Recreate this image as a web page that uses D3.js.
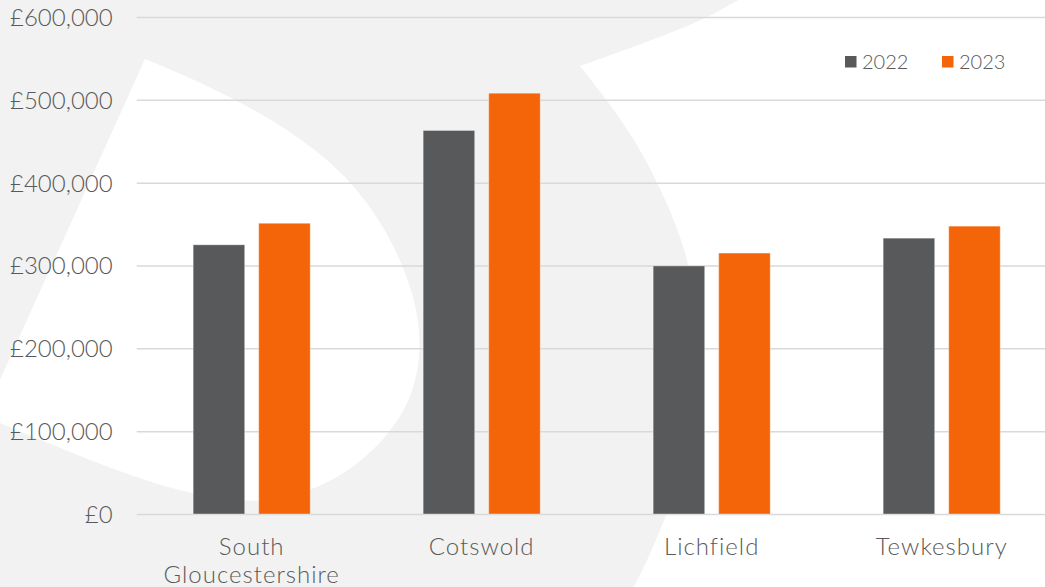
<!DOCTYPE html>
<html>
<head>
<meta charset="utf-8">
<script src="https://cdn.jsdelivr.net/npm/d3@7"></script>
<style>
  html, body { margin: 0; padding: 0; background: #f2f2f2; overflow: hidden; }
  text { font-family: Lato, "Noto Sans", sans-serif; font-weight: 300; fill: #595959; }
</style>
</head>
<body>
<div id="chartArea"></div>
<script>
// data
const categories = ["South Gloucestershire", "Cotswold", "Lichfield", "Tewkesbury"];
const years = ["2022", "2023"];
const prices2022 = [325000, 463000, 299500, 333000];
const prices2023 = [351000, 508000, 315000, 347500];
const yTicks = [0, 100000, 200000, 300000, 400000, 500000, 600000];

// colours
const barColours = ["#58595b", "#f4650a"];
const bgGrey = "#f2f2f2";
const gridGrey = "#d9d9d9";

// watermark shapes behind the chart (pixel space, decoration only)
const leftSwoosh = [[145,59],[200,82],[260,112],[315,148],[360,190],[395,245],[416,300],[422,350],
  [412,400],[385,440],[345,475],[300,495],[255,503],[200,497],[130,476],[60,448],[0,423]];
const rightTop = [[760,-10],[737,0],[710,17],[653,40],[580,66]];
const rightSide = [[580,66],[607,100],[635,140],[658,183],[683,240],[697,300],[701,360],[693,430],[669,513],[635,587],[625,600]];

const W = 1045, H = 587;

const svg = d3.select("#chartArea").append("svg")
  .attr("width", W)
  .attr("height", H);

svg.append("rect").attr("width", W).attr("height", H).attr("fill", bgGrey);

const curve = d3.line().curve(d3.curveBasis);

svg.append("path")
  .attr("d", curve(leftSwoosh) + "L-10,423L-10,402L145,59Z")
  .attr("fill", "white");

svg.append("path")
  .attr("d", curve(rightTop) + curve(rightSide).replace(/^M/, "L") + "L1060,600L1060,-10Z")
  .attr("fill", "white");

// scales
const y = d3.scaleLinear().domain([0, 600000]).range([514, 17]);
const x0 = d3.scaleBand().domain(categories).range([136.7, 1056.7]).paddingInner(0.491).paddingOuter(0.2455);
const x1 = d3.scaleBand().domain(years).range([0, x0.bandwidth()]).paddingInner(0.214);

// gridlines
const yAxis = d3.axisLeft(y).tickValues(yTicks).tickSize(-(1056.7 - 136.7))
  .tickFormat(d => "£" + d3.format(",")(d));
const gy = svg.append("g").attr("transform", "translate(136.7,0)").call(yAxis);
gy.select(".domain").remove();
gy.selectAll(".tick line").attr("stroke", gridGrey).attr("stroke-width", 1.5);
gy.selectAll(".tick text")
  .attr("x", -24)
  .attr("dy", "0.35em")
  .style("font-size", "24px")
  .style("font-family", "Lato, sans-serif")
  .style("font-weight", 300)
  .attr("fill", "#595959");

// bars
const rows = categories.map((c, i) => ({ cat: c, values: [prices2022[i], prices2023[i]] }));

const groups = svg.selectAll("g.grp")
  .data(rows)
  .enter().append("g")
  .attr("class", "grp")
  .attr("transform", d => "translate(" + x0(d.cat) + ",0)");

groups.selectAll("rect")
  .data(d => d.values.map((v, j) => ({ year: years[j], v: v, j: j })))
  .enter().append("rect")
  .attr("x", d => x1(d.year))
  .attr("y", d => y(d.v))
  .attr("width", x1.bandwidth())
  .attr("height", d => y(0) - y(d.v))
  .attr("fill", d => barColours[d.j])
  .attr("stroke", "white")
  .attr("stroke-opacity", 0.35)
  .attr("stroke-width", 1);

// category labels
const catLabels = svg.selectAll("text.cat")
  .data(categories)
  .enter().append("text")
  .attr("class", "cat")
  .attr("text-anchor", "middle")
  .attr("y", 555)
  .style("font-size", "24px")
  .style("letter-spacing", "1px")
  .text(d => d);

catLabels.each(function(d) {
  const t = d3.select(this);
  const cx = x0(d) + x0.bandwidth() / 2;
  t.attr("x", cx);
  if (this.getComputedTextLength() > x0.step() - 20) {
    const words = d.split(" ");
    t.text(null);
    words.forEach((w, k) => {
      t.append("tspan").attr("x", cx).attr("dy", k === 0 ? 0 : 28).text(w);
    });
  }
});

// legend
const legend = svg.selectAll("g.leg")
  .data(years)
  .enter().append("g")
  .attr("class", "leg")
  .attr("transform", (d, i) => "translate(" + (845 + i * 97) + ",56)");

legend.append("rect")
  .attr("width", 11.5)
  .attr("height", 11.5)
  .attr("fill", (d, i) => barColours[i]);

legend.append("text")
  .attr("x", 17)
  .attr("y", 12.5)
  .style("font-size", "20px")
  .text(d => d);
</script>
</body>
</html>
